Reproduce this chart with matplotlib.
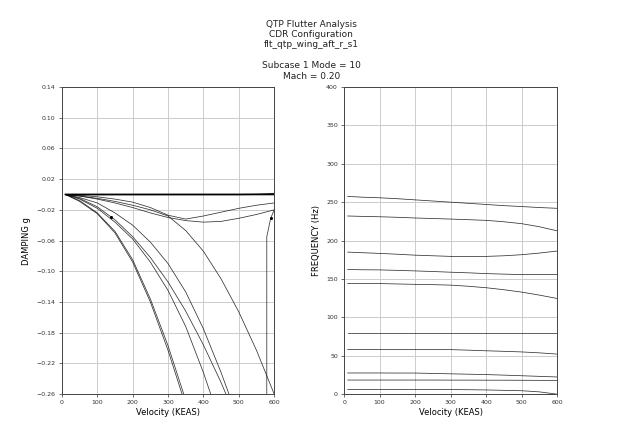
import matplotlib
matplotlib.use("Agg")
import matplotlib.pyplot as plt

# velocity stations (KEAS)
V = [10, 50, 100, 150, 200, 250, 300, 350, 400, 450, 500, 550, 600]

# damping g per mode (values below -0.26 fall off the plot)
g_zero1 = [0, 0, 0, 0, 0, 0, 0, 0, 0, 0, 0, 0, 0]
g_zero2 = [0, 0, 0, 0, 0, 0, 0, 0, 0, 0, 0, 0.0003, 0.0012]
g_low6 = [0, 0, 0, 0, 0, 0, 0, 0, 0, 0, 0, 0, 0]
g_bowl1 = [0, -0.001, -0.003, -0.006, -0.010, -0.017, -0.027, -0.032, -0.028, -0.023, -0.018, -0.014, -0.011]
g_bowl2 = [0, -0.002, -0.006, -0.011, -0.017, -0.024, -0.030, -0.034, -0.036, -0.035, -0.031, -0.026, -0.020]
g_drop1 = [0, -0.009, -0.025, -0.050, -0.088, -0.140, -0.203, -0.275, -0.40, -0.55, -0.70, -0.85, -1.0]
g_drop2 = [0, -0.008, -0.024, -0.048, -0.085, -0.136, -0.197, -0.268, -0.38, -0.52, -0.66, -0.80, -0.95]
g_drop3 = [0, -0.006, -0.018, -0.036, -0.058, -0.088, -0.125, -0.172, -0.232, -0.30, -0.38, -0.46, -0.55]
g_drop4 = [0, -0.005, -0.016, -0.033, -0.055, -0.082, -0.114, -0.152, -0.196, -0.245, -0.30, -0.36, -0.43]
g_drop5 = [0, -0.004, -0.011, -0.024, -0.040, -0.062, -0.090, -0.127, -0.175, -0.232, -0.295, -0.36, -0.43]
g_drop6 = [0, -0.002, -0.005, -0.009, -0.014, -0.020, -0.028, -0.047, -0.074, -0.110, -0.153, -0.203, -0.260]

# branch that comes back up near 580 KEAS
ret_v = [579, 579, 590, 600]
ret_g = [-0.40, -0.055, -0.031, -0.020]
mark_v = [138, 590]
mark_g = [-0.029, -0.031]

# frequency (Hz) per mode
f_256 = [257.5, 256.5, 255.7, 254.5, 253, 251.5, 250, 248.5, 247, 245.5, 244.3, 243, 242]
f_231 = [232, 231.5, 231, 230.3, 229.4, 228.7, 228, 227.2, 226.3, 224.5, 222, 218, 212.7]
f_184 = [185, 184.2, 183.3, 182.2, 181, 180.2, 179.4, 179.2, 179.4, 180.2, 181.6, 183.7, 186.4]
f_162 = [162.3, 162, 161.8, 161.2, 160.5, 159.7, 158.8, 158, 157, 156.3, 155.7, 155.7, 155.7]
f_144 = [144, 144, 144, 143.5, 143, 142.6, 142, 140.5, 138.6, 136, 132.9, 129, 124.6]
f_80 = [80, 80, 80, 80, 80, 80, 80, 80, 80, 80, 80, 80, 80]
f_58 = [58.3, 58.2, 58, 58, 58, 58, 58, 57.3, 56.5, 55.8, 55, 53.8, 52.2]
f_28 = [27.6, 27.6, 27.6, 27.5, 27.5, 27, 26.5, 26, 25.5, 24.8, 24, 23.2, 22.4]
f_19 = [18.4, 18.4, 18.4, 18.4, 18.4, 18.4, 18.3, 18.3, 18.2, 18.2, 18.1, 18.0, 18.0]
f_6 = [6.1, 6.1, 6, 6, 6, 6, 6, 5.8, 5.5, 5.0, 4.5, 3.0, 0]

damping = [g_zero1, g_zero2, g_low6, g_bowl1, g_bowl2, g_drop1, g_drop2,
           g_drop3, g_drop4, g_drop5, g_drop6]
freqs = [f_256, f_231, f_184, f_162, f_144, f_80, f_58, f_28, f_19, f_6]

title = ("QTP Flutter Analysis\nCDR Configuration\nflt_qtp_wing_aft_r_s1\n\n"
         "Subcase 1 Mode = 10\nMach = 0.20")

fig = plt.figure(figsize=(6.19, 4.37), dpi=100)
fig.text(0.503, 0.955, title, ha="center", va="top", fontsize=6.5,
         linespacing=1.2, color="#222222")

ax1 = fig.add_axes([0.100, 0.098, 0.343, 0.703])
ax2 = fig.add_axes([0.556, 0.098, 0.344, 0.703])

for g in damping:
    lw = 1.0 if max(abs(x) for x in g) < 0.002 else 0.55
    ax1.plot(V, g, color="k", lw=lw, alpha=0.8)
ax1.plot(ret_v, ret_g, color="k", lw=0.55, alpha=0.8)
ax1.plot(mark_v, mark_g, ls="none", marker="o", ms=1.2, color="k")

for f in freqs:
    ax2.plot(V, f, color="k", lw=0.55, alpha=0.8)

ax1.set_xlim(0, 600)
ax1.set_ylim(-0.26, 0.14)
ax1.set_yticks([0.14, 0.10, 0.06, 0.02, -0.02, -0.06, -0.10, -0.14, -0.18, -0.22, -0.26])
ax1.set_ylabel("DAMPING g", fontsize=6)

ax2.set_xlim(0, 600)
ax2.set_ylim(0, 400)
ax2.set_yticks(range(0, 401, 50))
ax2.set_ylabel("FREQUENCY (Hz)", fontsize=6)

for ax in (ax1, ax2):
    ax.set_xticks(range(0, 601, 100))
    ax.set_xlabel("Velocity (KEAS)", fontsize=6, labelpad=2)
    ax.grid(True, color="#cccccc", lw=0.7)
    ax.set_axisbelow(True)
    ax.tick_params(labelsize=4.5, length=2.5, width=0.5, pad=2, colors="#333333")
    for s in ax.spines.values():
        s.set_linewidth(0.7)
        s.set_color("#444444")

fig.savefig("out.png", dpi=100)
